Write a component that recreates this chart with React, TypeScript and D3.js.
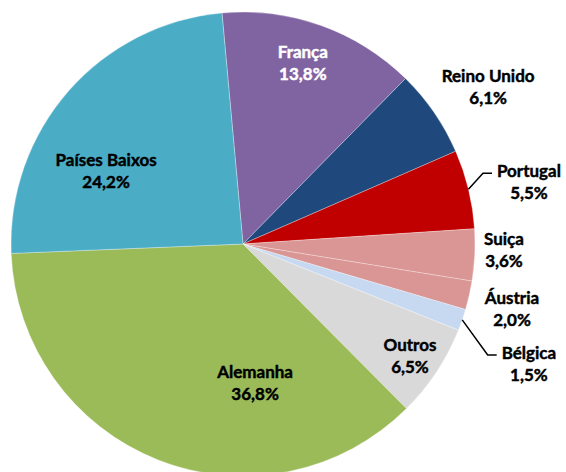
import { useEffect, useRef } from 'react';
import * as d3 from 'd3';

// categorias e valores (%), no sentido horário a partir do topo
const countries = ['França', 'Reino Unido', 'Portugal', 'Suiça', 'Áustria', 'Bélgica', 'Outros', 'Alemanha', 'Países Baixos'];
const shares = [13.8, 6.1, 5.5, 3.6, 2.0, 1.5, 6.5, 36.8, 24.2];
const shareLabels = ['13,8%', '6,1%', '5,5%', '3,6%', '2,0%', '1,5%', '6,5%', '36,8%', '24,2%'];
const colors = ['#8064A2', '#1F497D', '#C00000', '#D99694', '#D99694', '#C6D9F1', '#D9D9D9', '#9BBB59', '#4BACC6'];

// posição dos rótulos: [ângulo em graus, fração do raio]
const labelPolar: [number, number][] = [
  [18.2, 0.826], [57.2, 1.257], [77.6, 1.262], [91.1, 1.125], [103.4, 1.192],
  [112.6, 1.335], [123.6, 0.864], [175, 0.597], [298.4, 0.671],
];
const leaderFor = ['Portugal', 'Bélgica'];

export default function App() {
  const ref = useRef<SVGSVGElement | null>(null);

  useEffect(() => {
    document.body.style.margin = '0';
    const svg = d3.select(ref.current);
    svg.selectAll('*').remove();

    const cx = 243, cy = 244, r = 232;
    const start = (-5.2 * Math.PI) / 180;

    const data = countries.map((c, i) => ({ name: c, value: shares[i], label: shareLabels[i], color: colors[i] }));

    const pie = d3.pie<any>().value(d => d.value).sort(null).startAngle(start).endAngle(start + 2 * Math.PI);
    const arc = d3.arc<any>().innerRadius(0).outerRadius(r);
    const arcs = pie(data);

    const g = svg.append('g').attr('transform', `translate(${cx},${cy})`);

    g.selectAll('path')
      .data(arcs)
      .enter()
      .append('path')
      .attr('d', arc)
      .attr('fill', d => d.data.color)
      .attr('stroke', '#ffffff')
      .attr('stroke-opacity', 0.5)
      .attr('stroke-width', 0.6);

    const labels = g.append('g')
      .style('font-family', 'Lato, "Open Sans", sans-serif')
      .style('font-weight', 'bold')
      .style('font-size', '17px');

    arcs.forEach((a, i) => {
      const [deg, k] = labelPolar[i];
      const ang = (deg * Math.PI) / 180;
      const lx = Math.sin(ang) * r * k;
      const ly = -Math.cos(ang) * r * k;
      const fill = a.data.name === 'França' ? '#ffffff' : '#000000';

      const t1 = labels.append('text')
        .attr('x', lx).attr('y', ly - 4)
        .attr('text-anchor', 'middle')
        .attr('fill', fill)
        .attr('stroke', fill)
        .attr('stroke-width', 0.45)
        .text(a.data.name);
      labels.append('text')
        .attr('x', lx).attr('y', ly + 18)
        .attr('text-anchor', 'middle')
        .attr('fill', fill)
        .attr('stroke', fill)
        .attr('stroke-width', 0.45)
        .text(a.data.label);

      if (leaderFor.includes(a.data.name)) {
        const w = (t1.node() as SVGTextElement).getComputedTextLength();
        const left = lx - w / 2;
        const mid = (a.startAngle + a.endAngle) / 2;
        const [ex, ey] = [Math.sin(mid) * r, -Math.cos(mid) * r];
        const yy = ly - 8;
        g.append('path')
          .attr('d', `M${ex},${ey}L${left - 14},${yy}L${left - 5},${yy}`)
          .attr('fill', 'none')
          .attr('stroke', '#000000')
          .attr('stroke-width', 1.5);
      }
    });
  }, []);

  return <svg ref={ref} width={566} height={472} style={{ display: 'block' }} />;
}
